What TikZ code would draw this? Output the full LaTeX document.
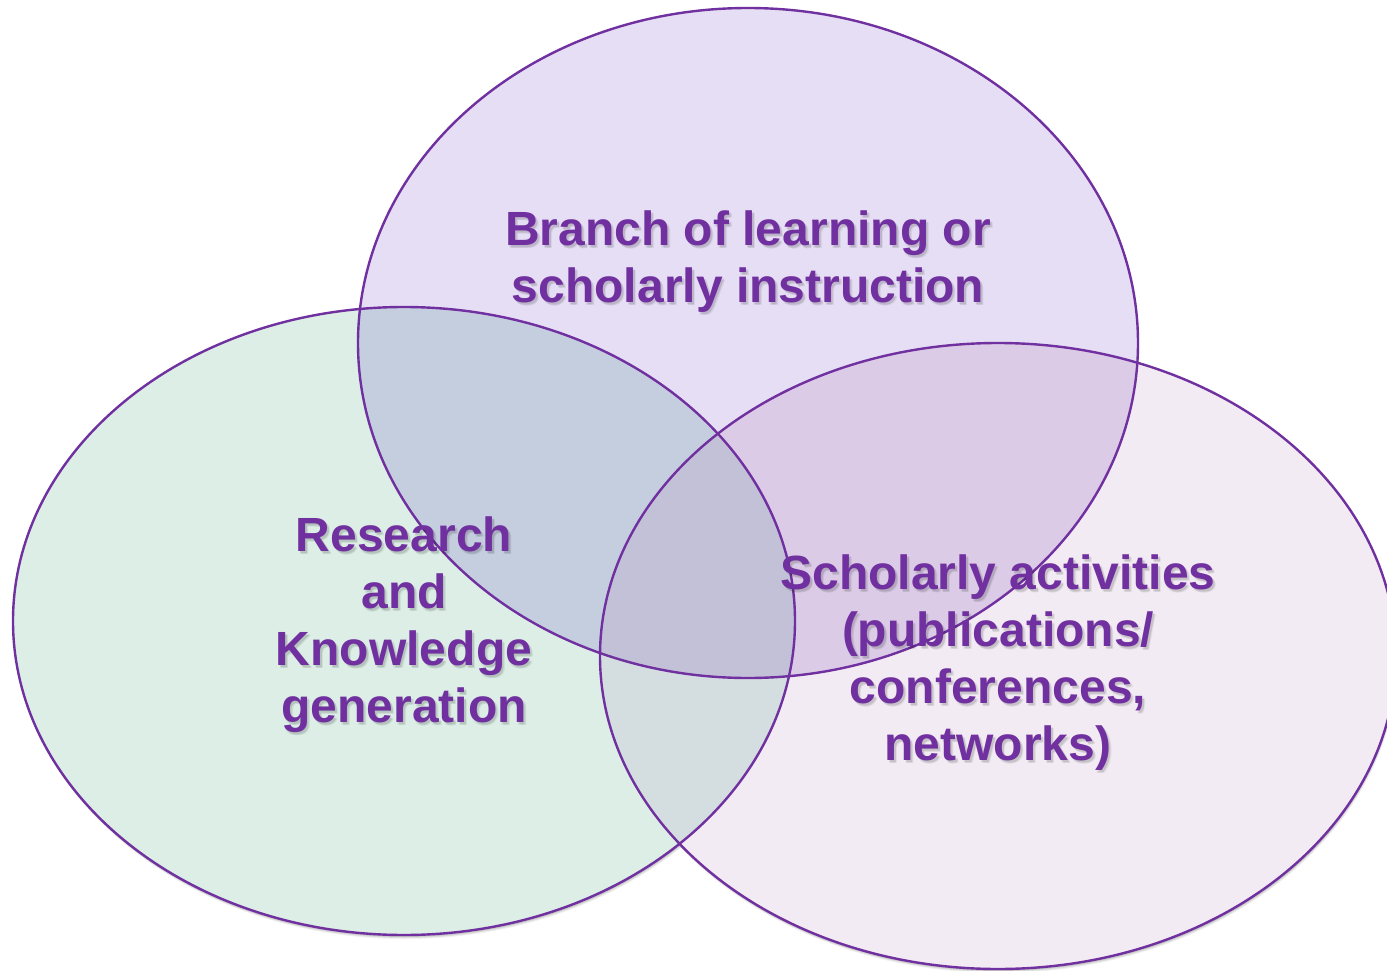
\documentclass[tikz,border=0pt]{standalone}
\usepackage{fontspec}
\setmainfont{Liberation Sans}
\definecolor{vline}{HTML}{7030A0}
\definecolor{ctop}{HTML}{E6DEF4}
\definecolor{cleft}{HTML}{DCEEE6}
\definecolor{cright}{HTML}{F2EBF3}
\definecolor{ctl}{HTML}{C5CEDF}
\definecolor{ctr}{HTML}{DBCBE7}
\definecolor{clr}{HTML}{D4DDDF}
\definecolor{call}{HTML}{C2C1D7}
\tikzset{
  vtext/.style={font=\fontsize{48}{57}\selectfont\bfseries, text=vline, align=center, inner sep=0pt},
  vshadow/.style={font=\fontsize{48}{57}\selectfont\bfseries, text=black, opacity=0.10, align=center, inner sep=0pt},
  vedge/.style={draw=vline, line width=2.4pt}
}
\def\topE{(748,343) ellipse [x radius=390, y radius=335]}
\def\leftE{(404,621) ellipse [x radius=391, y radius=314]}
\def\rightE{(998,656) ellipse [x radius=398, y radius=313]}
\begin{document}
\begin{tikzpicture}[x=1pt,y=-1pt]
\useasboundingbox (0,0) rectangle (1387,971);
\fill[white] (0,0) rectangle (1387,971);
% soft shadows
\foreach \d/\o in {4/0.06,3/0.08,2/0.1}{
  \fill[black,opacity=\o] ([yshift=-\d pt,xshift=\d pt*0.3]748,343) ellipse [x radius=390, y radius=335];
  \fill[black,opacity=\o] ([yshift=-\d pt,xshift=\d pt*0.3]404,621) ellipse [x radius=391, y radius=314];
  \fill[black,opacity=\o] ([yshift=-\d pt,xshift=\d pt*0.3]998,656) ellipse [x radius=398, y radius=313];
}
% fills
\fill[ctop] \topE;
\fill[cleft] \leftE;
\fill[cright] \rightE;
\begin{scope}\clip \topE; \fill[ctl] \leftE; \end{scope}
\begin{scope}\clip \topE; \fill[ctr] \rightE; \end{scope}
\begin{scope}\clip \leftE; \fill[clr] \rightE; \end{scope}
\begin{scope}\clip \topE; \clip \leftE; \fill[call] \rightE; \end{scope}
% outlines
\draw[vedge] \topE;
\draw[vedge] \leftE;
\draw[vedge] \rightE;
% text shadows (base anchor = baseline of last line)
\foreach \dx/\dy/\o in {3/3/0.06,2/2/0.08,1.5/3/0.05}{
  \node[vshadow, opacity=\o, anchor=base] at (748+\dx,302+\dy) {Branch of learning or\\scholarly instruction};
  \node[vshadow, opacity=\o, anchor=base] at (404+\dx,722+\dy) {Research\\and\\Knowledge\\generation};
  \node[vshadow, opacity=\o, anchor=base] at (998+\dx,760+\dy) {Scholarly activities\\(publications/\\conferences,\\networks)};
}
\node[vtext, anchor=base] (top) at (748,302) {Branch of learning or\\scholarly instruction};
\node[vtext, anchor=base] (left) at (404,722) {Research\\and\\Knowledge\\generation};
\node[vtext, anchor=base] (right) at (998,760) {Scholarly activities\\(publications/\\conferences,\\networks)};
\end{tikzpicture}
\end{document}
